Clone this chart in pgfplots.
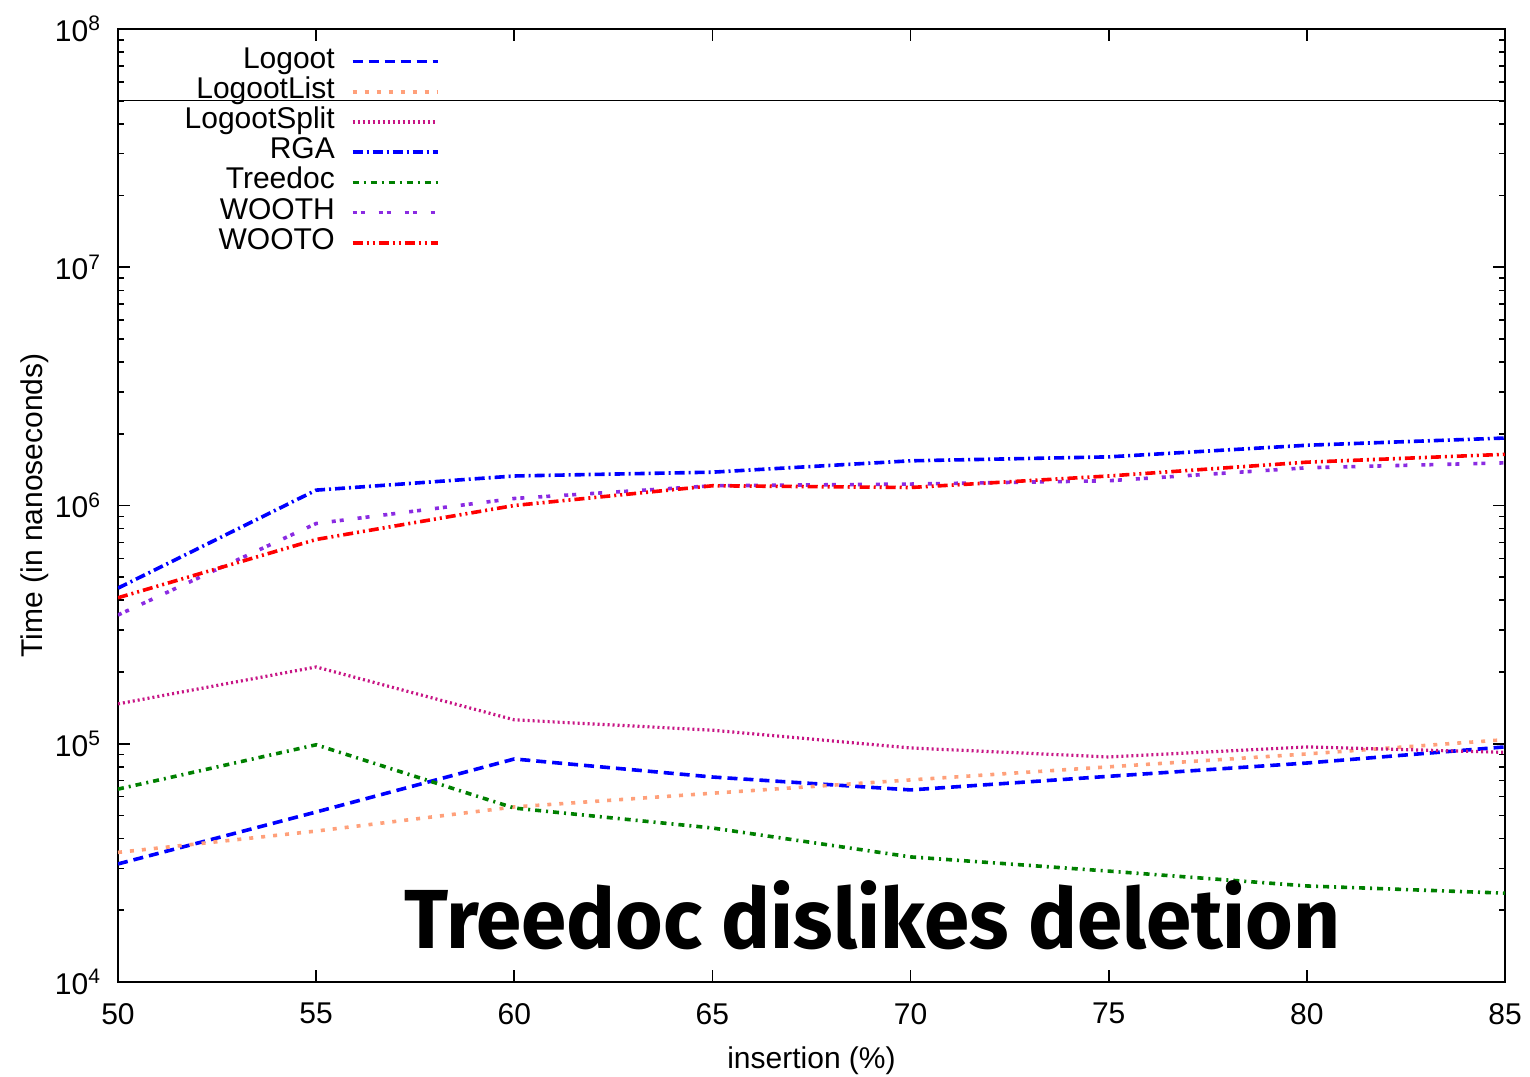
\documentclass[border=0pt]{standalone}
\usepackage{fontspec}
\setmainfont{Liberation Sans}
\newfontfamily\annfont{Fira Sans}
\usepackage{pgfplots}
\pgfplotsset{compat=1.18}
\definecolor{cLogoot}{HTML}{0000FF}
\definecolor{cList}{HTML}{FFA07A}
\definecolor{cSplit}{HTML}{C71585}
\definecolor{cTree}{HTML}{008000}
\definecolor{cWooth}{HTML}{8A2BE2}
\definecolor{cWooto}{HTML}{FF0000}
\begin{document}
\begin{tikzpicture}
\begin{axis}[
  name=ax,
  scale only axis,
  width=693.5pt, height=476.5pt,
  ymode=log,
  xmin=50, xmax=85, ymin=1e4, ymax=1e8,
  xtick={50,55,...,85},
  ytick={1e4,1e5,1e6,1e7,1e8},
  yticklabels={10\textsuperscript{4},10\textsuperscript{5},10\textsuperscript{6},10\textsuperscript{7},10\textsuperscript{8}},
  /pgf/number format/assume math mode=true,
  tick label style={font=\fontsize{15pt}{17pt}\selectfont},
  xticklabel style={yshift=-7pt},
  yticklabel style={xshift=-5pt},
  label style={font=\fontsize{15pt}{17pt}\selectfont},
  xlabel={insertion (\%)},
  ylabel={Time (in nanoseconds)},
  xlabel style={yshift=-4.5pt},
  ylabel style={yshift=-4pt},
  tick align=inside,
  xtick pos=both, ytick pos=both,
  major tick length=6pt, minor tick length=3pt,
  every tick/.style={black, line width=0.8pt},
  axis line style={line width=1pt},
  legend cell align=right,
  legend plot pos=right,
  legend style={at={(rel axis cs:0.232,0.982)}, anchor=north east, draw=none, fill=none,
    inner sep=0pt, row sep=0pt,
    nodes={inner sep=0pt, text height=10.8pt, text depth=4.3pt, font=\fontsize{15pt}{17pt}\selectfont},
    /tikz/column sep=8pt},
  legend image code/.code={\draw[#1] (0pt,0pt) -- (42.5pt,0pt);},
]
\addplot[cLogoot, line width=1.8pt, dash pattern=on 5pt off 3pt] coordinates {
(50,3.13e4) (55,5.17e4) (60,8.63e4) (65,7.25e4) (70,6.4e4) (75,7.3e4) (80,8.3e4) (85,9.7e4)};
\addlegendentry{Logoot}
\addplot[cList, line width=1.8pt, dash pattern=on 2pt off 4pt] coordinates {
(50,3.5e4) (55,4.3e4) (60,5.43e4) (65,6.2e4) (70,7.05e4) (75,8.0e4) (80,9.06e4) (85,1.04e5)};
\addlegendentry{LogootList}
\addplot[cSplit, line width=1.6pt, dash pattern=on 1pt off 1.5pt] coordinates {
(50,1.47e5) (55,2.1e5) (60,1.26e5) (65,1.14e5) (70,9.6e4) (75,8.8e4) (80,9.7e4) (85,9.2e4)};
\addlegendentry{LogootSplit}
\addplot[cLogoot, line width=1.8pt, dash pattern=on 5pt off 2pt on 1pt off 2pt] coordinates {
(50,4.5e5) (55,1.16e6) (60,1.33e6) (65,1.38e6) (70,1.54e6) (75,1.6e6) (80,1.79e6) (85,1.92e6)};
\addlegendentry{RGA}
\addplot[cTree, line width=1.8pt, dash pattern=on 3pt off 2.5pt on 1pt off 2.5pt] coordinates {
(50,6.45e4) (55,9.9e4) (60,5.37e4) (65,4.43e4) (70,3.35e4) (75,2.92e4) (80,2.53e4) (85,2.36e4)};
\addlegendentry{Treedoc}
\addplot[cWooth, line width=1.8pt, dash pattern=on 2pt off 2pt on 2pt off 7pt] coordinates {
(50,3.47e5) (55,8.4e5) (60,1.07e6) (65,1.21e6) (70,1.23e6) (75,1.27e6) (80,1.44e6) (85,1.51e6)};
\addlegendentry{WOOTH}
\addplot[cWooto, line width=1.8pt, dash pattern=on 5pt off 2pt on 1pt off 2pt on 1pt off 2pt] coordinates {
(50,4.1e5) (55,7.2e5) (60,1.0e6) (65,1.21e6) (70,1.19e6) (75,1.33e6) (80,1.52e6) (85,1.64e6)};
\addlegendentry{WOOTO}
\addplot[black, line width=0.5pt, forget plot] coordinates {(50,5e7) (85,5e7)};
\node[anchor=south west, inner sep=0pt] at (rel axis cs:0.2062,0.0336)
  {\resizebox{468pt}{34pt}{\annfont\bfseries Treedoc dislikes deletion}};
\end{axis}
\pgfresetboundingbox
\path[use as bounding box] ([shift={(-59pt,-47pt)}]ax.south west) rectangle ([shift={(12.5pt,14.5pt)}]ax.north east);
\end{tikzpicture}
\end{document}
